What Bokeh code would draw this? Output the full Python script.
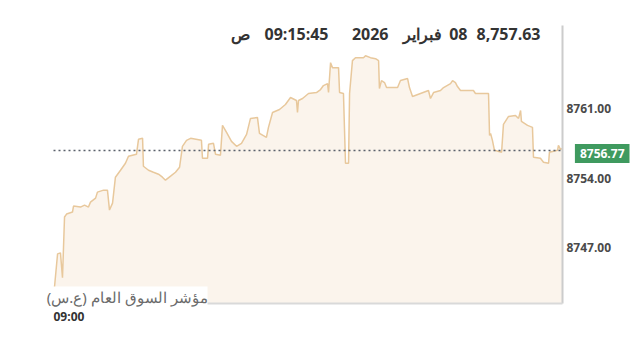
from bokeh.plotting import figure
from bokeh.models import Label, Range1d
from bokeh.core.properties import value
from bokeh.embed import file_html
from bokeh.resources import INLINE

# ---- data (minutes after 09:00, index value) ----
minutes = [0.0, 2.4, 4.1, 5.3, 6.5, 7.7, 11.2, 11.8, 15.9, 18.3, 20.6, 21.8, 24.8, 25.9,
           29.5, 31.8, 33.0, 34.8, 36.5, 39.5, 42.4, 44.2, 48.9, 50.1, 52.5, 53.0, 56.0,
           58.9, 61.9, 64.2, 66.0, 69.0, 71.9, 74.3, 76.0, 78.4, 80.8, 87.2, 87.8, 90.8,
           91.4, 94.3, 95.5, 98.4, 99.6, 102.0, 104.9, 107.9, 110.8, 113.8, 116.1, 120.2,
           121.4, 125.5, 126.7, 129.1, 133.2, 136.7, 139.7, 143.2, 143.8, 144.4, 146.8,
           150.3, 155.0, 157.4, 159.1, 161.5, 162.1, 163.3, 164.4, 168.0, 168.6, 170.9,
           172.1, 173.9, 174.5, 176.2, 178.0, 182.7, 183.9, 186.8, 189.8, 191.6, 192.1,
           193.3, 195.1, 196.3, 202.8, 204.5, 208.7, 209.8, 211.6, 216.3, 221.0, 222.2,
           224.0, 228.1, 229.9, 234.0, 235.2, 236.9, 238.1, 239.9, 247.5, 248.7, 256.4,
           257.0, 257.6, 258.7, 259.9, 264.1, 265.2, 268.2, 272.3, 274.1, 275.3, 275.8,
           279.4, 282.3, 282.9, 287.0, 288.8, 291.8, 292.3, 297.1, 297.6, 298.8, 300.0]
values = [8742.0, 8746.4, 8746.5, 8744.0, 8750.1, 8750.4, 8750.6, 8751.2, 8751.1, 8751.3,
          8751.1, 8751.6, 8752.0, 8752.6, 8752.8, 8752.8, 8750.8, 8751.5, 8754.1, 8754.8,
          8755.5, 8756.2, 8756.4, 8757.9, 8758.0, 8755.2, 8754.8, 8754.6, 8754.4, 8754.1,
          8753.8, 8754.2, 8754.6, 8755.1, 8757.2, 8757.8, 8758.0, 8757.8, 8756.0, 8756.0,
          8757.4, 8757.5, 8756.4, 8756.3, 8759.3, 8758.6, 8757.7, 8757.2, 8757.5, 8758.4,
          8760.0, 8760.1, 8758.5, 8758.1, 8759.1, 8760.6, 8760.9, 8761.4, 8762.1, 8761.8,
          8760.6, 8761.8, 8762.0, 8762.5, 8762.6, 8762.9, 8763.3, 8763.5, 8762.6, 8765.6,
          8765.1, 8765.1, 8762.6, 8762.5, 8755.5, 8755.5, 8762.5, 8765.8, 8766.1, 8766.1,
          8766.3, 8766.1, 8766.0, 8765.8, 8763.0, 8763.8, 8763.6, 8763.1, 8763.1, 8763.8,
          8764.0, 8763.1, 8762.2, 8762.5, 8762.8, 8762.0, 8762.6, 8762.8, 8763.1, 8763.5,
          8763.8, 8763.6, 8763.2, 8762.8, 8762.8, 8762.5, 8762.5, 8758.3, 8758.5, 8757.8,
          8756.8, 8756.6, 8759.4, 8760.2, 8760.3, 8760.0, 8760.8, 8759.7, 8759.3, 8759.1,
          8756.1, 8756.0, 8755.6, 8755.5, 8756.6, 8756.8, 8757.3, 8756.9, 8757.0]

y_ticks = [8747, 8754, 8761]
y_tick_labels = ["%.2f" % t for t in y_ticks]
x_start_label = "09:00"
prev_close = 8756.77
prev_close_text = "8756.77"
header_price = "8,757.63"
header_day = "08"
header_month = "فبراير"
header_year = "2026"
header_time = "09:15:45"
header_ampm = "ص"
series_name = "مؤشر السوق العام (ع.س)"

# value domain of the chart area
x_min, x_max = 0, 300
y_lo, y_hi = 8741.42, 8769.33

# layout: chart area inside the 640x351 canvas (pixels)
W, H = 640, 351
area_left, area_right, area_top, area_bottom = 53, 562, 25, 303
sx = (area_right - area_left) / (x_max - x_min)
sy = (area_bottom - area_top) / (y_hi - y_lo)
x_range = Range1d(x_min - area_left / sx, x_max + (W - area_right) / sx)
y_range = Range1d(y_lo - (H - area_bottom) / sy, y_hi + area_top / sy)

p = figure(width=W, height=H, output_backend="svg", toolbar_location=None,
           x_range=x_range, y_range=y_range,
           x_axis_location=None, y_axis_location=None,
           min_border=0, min_border_left=0, min_border_right=0,
           min_border_top=0, min_border_bottom=0)
p.grid.visible = False
p.outline_line_color = None
p.background_fill_color = "white"
p.border_fill_color = "white"

p.varea(x=minutes, y1=y_lo, y2=values, fill_color="#FBF4EC")
p.line(minutes, values, line_color="#E8C89C", line_width=1.5)

# previous-close dotted reference line
p.segment(x0=[x_min], y0=[prev_close], x1=[x_max], y1=[prev_close],
          line_dash="2 3", line_color="#5a606b", line_width=1.5)

# axis lines (right value axis, bottom time axis)
p.segment(x0=[x_max], y0=[y_lo], x1=[x_max], y1=[y_hi], line_color="#cccccc", line_width=2)
p.segment(x0=[x_min], y0=[y_lo], x1=[x_max], y1=[y_lo], line_color="#d9d9d9", line_width=2)

# right axis tick labels
p.text(x=[x_max] * len(y_ticks), y=y_ticks, text=y_tick_labels, x_offset=4,
       text_align="left", text_baseline="middle",
       text_font=value("Open Sans"), text_font_size=value("12px"), text_font_style="bold",
       text_color="#4a4a4a")

# start-time label
p.add_layout(Label(x=x_min, y=y_lo, y_offset=-13, text=x_start_label,
                   text_align="left", text_baseline="middle",
                   text_font="Open Sans", text_font_size="12px", text_font_style="bold",
                   text_color="#333333"))

# green previous-close badge (screen x = right edge of its text)
p.add_layout(Label(x=629, x_units="screen", y=prev_close, y_offset=-3, text=prev_close_text,
                   text_align="right", text_baseline="middle", text_color="white",
                   text_font="Open Sans", text_font_size="12px", text_font_style="bold",
                   background_fill_color="#3f9a5f", padding=5))

# header tokens: (text, right edge in px from left); vertical centre 33 px from top
header = [(header_price, 540), (header_day, 467), (header_month, 441),
          (header_year, 388), (header_time, 328), (header_ampm, 249)]
for txt, xr in header:
    p.add_layout(Label(x=xr, y=H - 33, x_units="screen", y_units="screen", text=txt,
                       text_align="right", text_baseline="middle",
                       text_font="Open Sans", text_font_size="16px", text_font_style="bold",
                       text_color="#333333"))

# series name over the bottom-left of the chart
p.add_layout(Label(x=207, y=H - 296, x_units="screen", y_units="screen", text=series_name,
                   text_align="right", text_baseline="middle",
                   text_font="Noto Sans", text_font_size="15px", text_color="#6b6b6b",
                   background_fill_color="white"))

open("out.html", "w").write(file_html(p, INLINE))
